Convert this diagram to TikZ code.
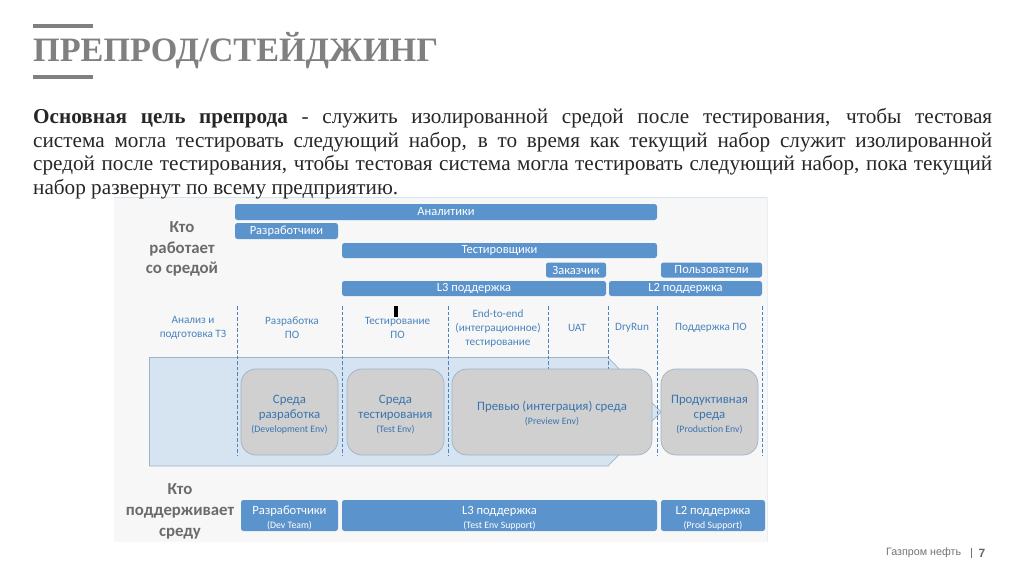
\documentclass[tikz,border=0pt]{standalone}
\usepackage{fontspec}
\setmainfont{Liberation Serif}
\newfontfamily\diagfont{Carlito}
\newfontfamily\footfont{Liberation Sans}
\definecolor{barblue}{HTML}{5B93CC}
\definecolor{textblue}{HTML}{4A83BD}
\definecolor{envblue}{HTML}{3B74AE}
\definecolor{arrowblue}{HTML}{D6E3F0}
\definecolor{edgeblue}{HTML}{9DB3C9}
\definecolor{envgray}{HTML}{D0D0D0}
\definecolor{panelgray}{HTML}{F7F7F7}
\definecolor{titlegray}{HTML}{808080}
\tikzset{
  barbox/.style={fill=barblue, rounded corners=2.5pt, inner sep=0pt, text=white, font=\diagfont\fontsize{12.5}{14}\selectfont, align=center},
  envbox/.style={fill=envgray, draw=edgeblue, line width=0.7pt, rounded corners=15pt, inner sep=0pt, text=envblue, align=center, font=\diagfont\fontsize{12.8}{15}\selectfont},
  phaselabel/.style={text=textblue, inner sep=0pt, align=center, font=\diagfont\fontsize{11.2}{13.9}\selectfont},
  wholabel/.style={text=black!58, inner sep=0pt, align=center, font=\diagfont\bfseries\fontsize{16.8}{20.7}\selectfont},
  phaseline/.style={textblue, line width=1pt, dashed, dash pattern=on 3.5pt off 2pt}
}
\newcommand{\subtext}[1]{{\fontsize{9.8}{12}\selectfont #1}}
\newcommand{\lowstrut}{\rule{0pt}{13pt}}
\begin{document}
\begin{tikzpicture}[x=1pt, y=-1pt]
  \useasboundingbox[fill=white] (0, 0) rectangle (1024, 574);
  \fill[panelgray] (114, 197) rectangle (767, 542);
  \draw[arrowblue, line width=1pt] (114, 197.5) -- (767, 197.5);
  \draw[arrowblue!60, line width=1pt] (767, 197) -- (767, 542);

  \fill[titlegray] (33, 24) rectangle (93, 28);
  \fill[titlegray] (33, 75) rectangle (93, 79);
  \node[anchor=west, inner sep=0pt, text=titlegray, font=\bfseries\fontsize{34.2}{40}\selectfont] (title) at (33, 51) {ПРЕПРОД/СТЕЙДЖИНГ};
  \node[anchor=north west, inner sep=0pt, text width=959pt, align=justify, text=black!85, font=\fontsize{21.2}{23.4}\selectfont] (intro) at (33, 108.5) {\textbf{Основная цель препрода} - служить изолированной средой после тестирования, чтобы тестовая\linebreak система могла тестировать следующий набор, в то время как текущий набор служит изолированной\linebreak средой после тестирования, чтобы тестовая система могла тестировать следующий набор, пока текущий\linebreak набор развернут по всему предприятию.};

  \node[wholabel] (whoworks) at (182, 249) {Кто\\работает\\со средой};
  \node[barbox, minimum width=422pt, minimum height=16pt] (analysts) at (446, 212) {Аналитики};
  \node[barbox, minimum width=103pt, minimum height=16pt] (devs) at (286.5, 231) {Разработчики};
  \node[barbox, minimum width=315pt, minimum height=15pt] (testers) at (499.5, 250.5) {Тестировщики};
  \node[barbox, minimum width=60pt, minimum height=15pt] (customer) at (576, 270) {Заказчик};
  \node[barbox, minimum width=101pt, minimum height=15pt] (users) at (711.5, 270) {Пользователи};
  \node[barbox, minimum width=264pt, minimum height=15pt] (lthree) at (474, 288.5) {L3 поддержка};
  \node[barbox, minimum width=153pt, minimum height=15pt] (ltwo) at (685.5, 288.5) {L2 поддержка};

  \node[phaselabel] (analysis) at (193, 328) {Анализ и\\подготовка ТЗ};
  \node[phaselabel] (develop) at (292, 328) {Разработка\\ПО};
  \node[phaselabel] (testing) at (397.5, 328) {Тестирование\\ПО};
  \node[phaselabel] (endtoend) at (498, 328.5) {End-to-end\\(интеграционное)\\тестирование};
  \node[phaselabel] (uat) at (577, 327.5) {UAT};
  \node[phaselabel] (dryrun) at (632, 328) {DryRun};
  \node[phaselabel] (support) at (711, 328) {Поддержка ПО};
  \fill[black] (393.5, 306) rectangle (397.5, 316.5);

  \draw[fill=arrowblue, draw=edgeblue, line width=0.7pt] (149.5, 357.5) -- (608, 357.5) -- (661, 412) -- (608, 466) -- (149.5, 466) -- cycle;
  \draw[phaseline] (237, 306) -- (237, 455);
  \draw[phaseline] (342, 306) -- (342, 455);
  \draw[phaseline] (448, 306) -- (448, 455);
  \draw[phaseline] (548, 306) -- (548, 369);
  \draw[phaseline] (608.5, 306) -- (608.5, 369);
  \draw[phaseline] (657, 306) -- (657, 455);
  \draw[phaseline] (762, 306) -- (762, 455);

  \node[envbox, minimum width=97pt, minimum height=86pt] (devenv) at (289.5, 412) {\lowstrut Среда\\разработка\\[-1pt]\subtext{(Development Env)}};
  \node[envbox, minimum width=97pt, minimum height=86pt] (testenv) at (395.5, 412) {\lowstrut Среда\\тестирования\\[-1pt]\subtext{(Test Env)}};
  \node[envbox, minimum width=200pt, minimum height=86pt] (previewenv) at (552, 412) {\lowstrut Превью (интеграция) среда\\[-1pt]\subtext{(Preview Env)}};
  \node[envbox, minimum width=97pt, minimum height=86pt] (prodenv) at (709.5, 412) {\lowstrut Продуктивная\\среда\\[-1pt]\subtext{(Production Env)}};

  \node[wholabel] (whosupports) at (180, 511.5) {Кто\\поддерживает\\среду};
  \node[barbox, minimum width=97pt, minimum height=31pt, font=\diagfont\fontsize{12.6}{14}\selectfont] (devteam) at (289.5, 515.5) {\lowstrut Разработчики\\\subtext{(Dev Team)}};
  \node[barbox, minimum width=315pt, minimum height=31pt, font=\diagfont\fontsize{12.6}{14}\selectfont] (testsupport) at (499.5, 515.5) {\lowstrut L3 поддержка\\\subtext{(Test Env Support)}};
  \node[barbox, minimum width=104pt, minimum height=31pt, font=\diagfont\fontsize{12.6}{14}\selectfont] (prodsupport) at (713, 515.5) {\lowstrut L2 поддержка\\\subtext{(Prod Support)}};

  \node[anchor=west, inner sep=0pt, text=black!55, font=\footfont\fontsize{10.7}{12}\selectfont] (company) at (886, 553) {Газпром нефть};
  \draw[black!55, line width=0.8pt] (971, 547.5) -- (971, 558);
  \node[anchor=west, inner sep=0pt, text=black!60, font=\footfont\bfseries\fontsize{12}{12}\selectfont] (pagenum) at (978.5, 553) {7};
\end{tikzpicture}
\end{document}
